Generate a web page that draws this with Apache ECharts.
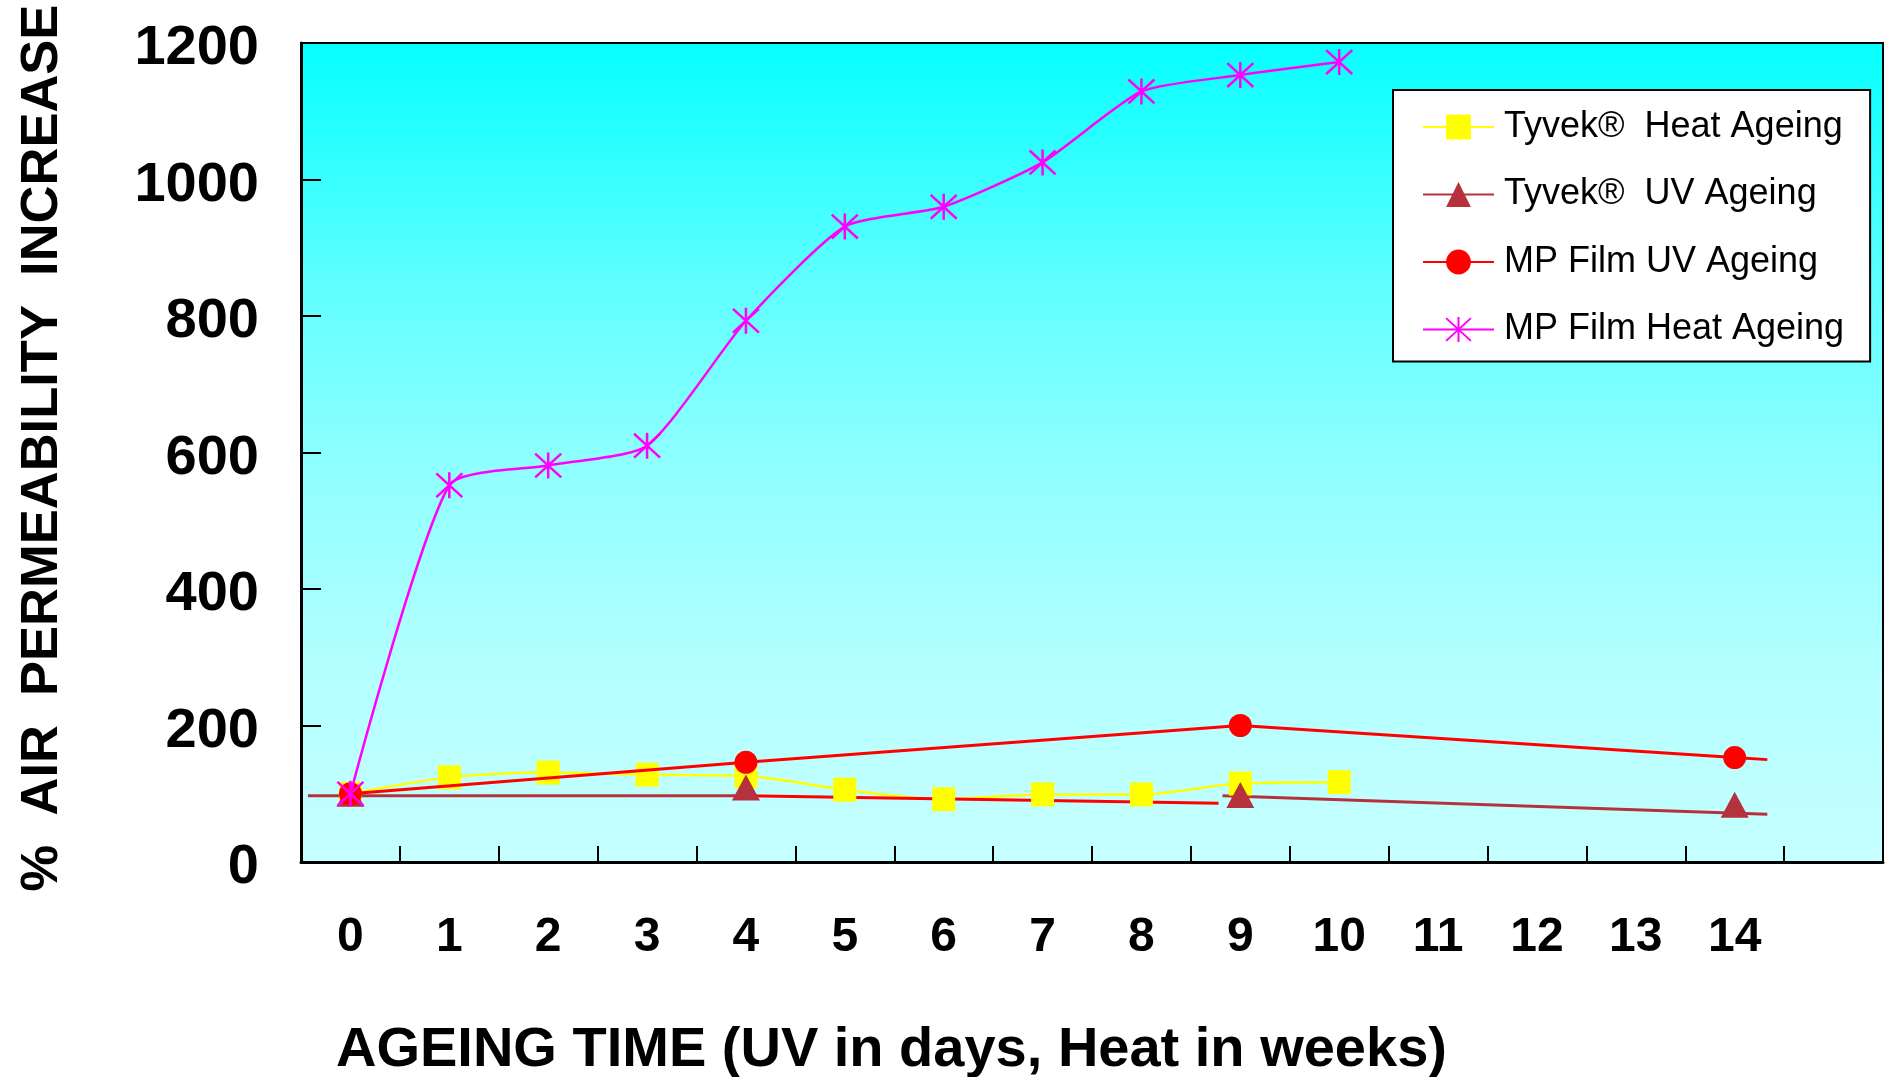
<!DOCTYPE html>
<html>
<head>
<meta charset="utf-8">
<script src="https://cdn.jsdelivr.net/npm/echarts@6/dist/echarts.min.js"></script>
<style>
html,body{margin:0;padding:0;background:#fff;}
#chart{width:1887px;height:1077px;}
</style>
</head>
<body>
<div id="chart"></div>
<script>
// ---------- data ----------
const categories = ['0','1','2','3','4','5','6','7','8','9','10','11','12','13','14',''];
const yTicks = [0, 200, 400, 600, 800, 1000, 1200];

// Heat ageing (weeks 0..10), one value per category
const tyvekHeat  = [100, 124, 131, 128, 126, 106, 92, 99, 99, 115, 117];
const mpFilmHeat = [100, 552, 581, 610, 793, 931, 960, 1025, 1129, 1153, 1172];

// UV ageing (days)
const uvDays   = [0, 4, 9, 14];
const tyvekUV  = [100, 109, 98, 84];
const mpFilmUV = [100, 146, 200, 153];

// connector lines as drawn in the original figure (x in category units)
const tyvekUVLineA_x = [-0.43, 4];    const tyvekUVLineA_y = [97, 97];
const tyvekUVLineB_x = [4, 8.78];     const tyvekUVLineB_y = [97, 86];
const tyvekUVLineC_x = [8.82, 14.33]; const tyvekUVLineC_y = [97, 70];
const mpFilmUVLineEnd_x = 14.33;      const mpFilmUVLineEnd_y = 150;

const names = ['Tyvek\u00AE  Heat Ageing', 'Tyvek\u00AE  UV Ageing', 'MP Film UV Ageing', 'MP Film Heat Ageing'];

// ---------- helpers ----------
const pairs = (xs, ys) => xs.map((x, i) => [x, ys[i]]);
const FONT = '"Liberation Sans", Arial, Helvetica, sans-serif';
const YELLOW = '#FFFF00', BROWN = '#B5323C', RED = '#FF0000', MAGENTA = '#FF00FF';
const ASTERISK = 'path://M12,0L12,24M0,1L24,23M0,23L24,1';

const chart = echarts.init(document.getElementById('chart'), null, {renderer: 'canvas'});

const mpUVData = pairs(uvDays, mpFilmUV);
mpUVData.push({value: [mpFilmUVLineEnd_x, mpFilmUVLineEnd_y], symbol: 'none'});

const option = {
  backgroundColor: '#ffffff',
  animation: false,
  grid: {
    left: 301, top: 43, width: 1582, height: 819,
    show: true,
    borderColor: '#000', borderWidth: 2,
    backgroundColor: new echarts.graphic.LinearGradient(0, 0, 0, 1, [
      {offset: 0, color: 'rgb(5,255,255)'},
      {offset: 0.29, color: 'rgb(94,255,255)'},
      {offset: 0.5, color: 'rgb(140,255,255)'},
      {offset: 0.75, color: 'rgb(178,255,255)'},
      {offset: 1, color: 'rgb(198,255,255)'}
    ])
  },
  xAxis: [{
    type: 'category',
    data: categories,
    boundaryGap: true,
    axisLine: {show: true, onZero: false, lineStyle: {color: '#000', width: 3}},
    axisTick: {show: true, inside: true, length: 16, interval: 0, lineStyle: {color: '#000', width: 2}},
    axisLabel: {interval: 0, margin: 52, color: '#000', fontFamily: FONT, fontWeight: 'bold', fontSize: 48},
    splitLine: {show: false}
  }, {
    type: 'value',
    min: -0.5, max: 15.5,
    show: false,
    axisLine: {show: false, onZero: false},
    splitLine: {show: false}
  }],
  yAxis: {
    type: 'value',
    min: yTicks[0], max: yTicks[yTicks.length - 1], interval: 200,
    axisLine: {show: true, onZero: false, lineStyle: {color: '#000', width: 3}},
    axisTick: {show: true, inside: true, length: 20, lineStyle: {color: '#000', width: 2}},
    axisLabel: {
      margin: 42, color: '#000',
      formatter: v => '{v|' + v + '}',
      rich: {v: {fontFamily: FONT, fontWeight: 'bold', fontSize: 56, color: '#000', padding: [12, 0, 0, 0]}}
    },
    splitLine: {show: false}
  },
  legend: {
    data: names,
    orient: 'vertical',
    left: 1393, top: 90,
    padding: [19, 26, 14, 29],
    itemGap: 31.5,
    itemWidth: 71, itemHeight: 31,
    backgroundColor: '#ffffff',
    borderColor: '#000', borderWidth: 2,
    textStyle: {fontFamily: FONT, fontSize: 36, color: '#000', padding: [0, 0, 0, 5]}
  },
  graphic: [{
    type: 'text',
    x: 43, y: 448,
    rotation: Math.PI / 2,
    style: {
      text: '%  AIR  PERMEABILITY  INCREASE',
      fill: '#000',
      font: 'bold 52.5px ' + FONT,
      textAlign: 'center', textVerticalAlign: 'middle'
    }
  }, {
    type: 'text',
    x: 336, y: 1051,
    style: {
      text: 'AGEING TIME (UV in days, Heat in weeks)',
      fill: '#000',
      font: 'bold 56px ' + FONT,
      textAlign: 'left', textVerticalAlign: 'middle'
    }
  }],
  series: [
    {
      name: names[0], type: 'line', xAxisIndex: 0,
      data: tyvekHeat, smooth: 0.3,
      symbol: 'rect', symbolSize: [23, 24],
      lineStyle: {color: YELLOW, width: 2.5},
      itemStyle: {color: YELLOW}
    },
    {
      name: names[1], type: 'line', xAxisIndex: 1,
      data: pairs(tyvekUVLineA_x, tyvekUVLineA_y),
      symbol: 'triangle', showSymbol: false,
      lineStyle: {color: BROWN, width: 3},
      itemStyle: {color: BROWN}
    },
    {
      name: 'tyvekUV-seg-b', type: 'line', xAxisIndex: 1,
      data: pairs(tyvekUVLineB_x, tyvekUVLineB_y),
      symbol: 'none',
      lineStyle: {color: RED, width: 3}
    },
    {
      name: 'tyvekUV-seg-c', type: 'line', xAxisIndex: 1,
      data: pairs(tyvekUVLineC_x, tyvekUVLineC_y),
      symbol: 'none',
      lineStyle: {color: BROWN, width: 3}
    },
    {
      name: 'tyvekUV-markers', type: 'scatter', xAxisIndex: 1,
      data: pairs(uvDays, tyvekUV),
      symbol: 'triangle', symbolSize: [28, 26],
      itemStyle: {color: BROWN, opacity: 1},
      z: 3
    },
    {
      name: names[2], type: 'line', xAxisIndex: 1,
      data: mpUVData,
      symbol: 'circle', symbolSize: 23,
      lineStyle: {color: RED, width: 3},
      itemStyle: {color: RED},
      z: 4
    },
    {
      name: names[3], type: 'line', xAxisIndex: 0,
      data: mpFilmHeat, smooth: 0.2,
      symbol: ASTERISK, symbolSize: 26,
      lineStyle: {color: MAGENTA, width: 2.5},
      itemStyle: {color: 'rgba(0,0,0,0)', borderColor: MAGENTA, borderWidth: 2.5},
      z: 5
    }
  ]
};
chart.setOption(option);
</script>
</body>
</html>
